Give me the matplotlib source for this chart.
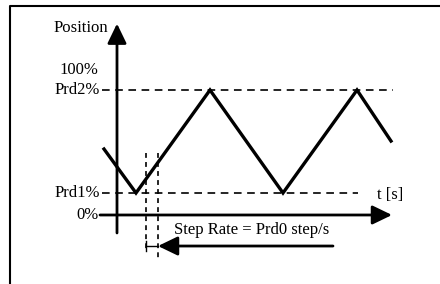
import matplotlib.pyplot as plt

plt.rcParams['font.family'] = ['Liberation Serif', 'DejaVu Serif']
plt.rcParams['lines.scale_dashes'] = False

# diagram values: time (arbitrary units) and position (%)
wave_t = [-1.3, 1.9, 9.3, 16.6, 24.0, 27.4]
wave_pos = [45.5, 15.2, 86.2, 15.2, 86.2, 51.0]
prd1 = 15.2
prd2 = 86.2
step_t = [2.9, 4.1]          # one step period between the two markers
prd2_line_t = [-1.5, 27.6]
prd1_line_t = [-1.5, 24.1]
t_axis = [-1.7, 27.5]
pos_axis = [-12.4, 132.0]
step_arrow_t = [21.6, 4.1]
step_arrow_pos = -21.4

fig = plt.figure(figsize=(4.4, 2.84), dpi=100)
ax = fig.add_axes([0, 0, 1, 1])
ax.set_xlim(-11.7, 32.3)
ax.set_ylim(-47.6, 148.3)
ax.axis('off')

# frame (left and top edges only visible)
ax.plot([10 / 440, 10 / 440, 1.0], [0.0, 1 - 6 / 284, 1 - 6 / 284],
        transform=ax.transAxes, color='black', lw=1.5, clip_on=False)

# axes arrows
arr = dict(arrowstyle='-|>,head_length=0.6,head_width=0.29', mutation_scale=20,
           color='black', lw=2.0, shrinkA=0, shrinkB=0)
ax.annotate('', xy=(0, pos_axis[1]), xytext=(0, pos_axis[0]), arrowprops=arr)
ax.annotate('', xy=(t_axis[1], 0), xytext=(t_axis[0], 0), arrowprops=arr)

# reference levels
ax.plot(prd2_line_t, [prd2, prd2], color='black', lw=1.2, dashes=(5.5, 4))
ax.plot(prd1_line_t, [prd1, prd1], color='black', lw=1.2, dashes=(5.5, 4))

# triangle wave
ax.plot(wave_t, wave_pos, color='black', lw=2.4, solid_joinstyle='miter')

# step markers
ax.plot([step_t[0], step_t[0]], [43, -23.5], color='black', lw=1.2, dashes=(3.5, 3))
ax.plot([step_t[1], step_t[1]], [43, -29.5], color='black', lw=1.2, dashes=(3.5, 3))
ax.plot(step_t, [step_arrow_pos, step_arrow_pos], color='black', lw=1.0)
ax.plot([step_t[0], step_t[0]], [step_arrow_pos - 3.5, step_arrow_pos + 3.5],
        color='black', lw=1.0)
ax.annotate('', xy=(step_arrow_t[1], step_arrow_pos),
            xytext=(step_arrow_t[0], step_arrow_pos), arrowprops=arr)

fs = 12
ax.text(-0.9, 129, 'Position', ha='right', va='center', fontsize=fs)
ax.text(-1.9, 100, '100%', ha='right', va='center', fontsize=fs)
ax.text(-1.7, prd2, 'Prd2%', ha='right', va='center', fontsize=fs)
ax.text(-1.7, prd1, 'Prd1%', ha='right', va='center', fontsize=fs)
ax.text(-1.8, 0, '0%', ha='right', va='center', fontsize=fs)
ax.text(26.0, prd1 - 1.5, 't [s]', ha='left', va='center', fontsize=fs)
ax.text(5.7, -10.5, 'Step Rate = Prd0 step/s', ha='left', va='center', fontsize=fs)

fig.savefig('out.png', dpi=100)
